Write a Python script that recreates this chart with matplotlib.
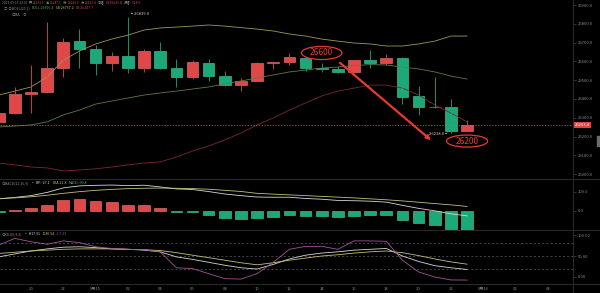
import matplotlib
matplotlib.use("Agg")
import matplotlib.pyplot as plt
import matplotlib.transforms as mtransforms
from matplotlib.lines import Line2D
from matplotlib.patches import Ellipse, Rectangle
import numpy as np

plt.rcParams["font.family"] = ["Noto Sans CJK SC", "DejaVu Sans"]

# hourly candles, 2023-09-14 18:00 .. 2023-09-15 23:00
opens = [26279, 26324, 26427, 26439, 26566, 26708, 26664, 26593, 26629, 26566,
         26657, 26563, 26519, 26593, 26522, 26474, 26496, 26590, 26595, 26620,
         26563, 26558, 26545, 26607, 26593, 26616, 26416, 26357, 26356, 26231.1]
closes = [26327, 26427, 26439, 26563, 26702, 26664, 26593, 26629, 26566, 26657,
          26563, 26515, 26595, 26522, 26474, 26496, 26593, 26598, 26622, 26566,
          26558, 26545, 26607, 26593, 26620, 26412, 26356, 26355, 26231, 26263.4]
highs = [26335, 26465, 26581, 26811, 26723, 26771, 26687, 26648, 26839, 26664,
         26702, 26613, 26607, 26611, 26549, 26510, 26596, 26602, 26643, 26625,
         26590, 26577, 26610, 26661, 26638, 26625, 26469, 26515, 26401, 26287.7]
lows = [26272, 26320, 26324, 26435, 26515, 26566, 26528, 26550, 26540, 26545,
        26558, 26465, 26505, 26496, 26471, 26444, 26494, 26558, 26581, 26550,
        26542, 26537, 26540, 26563, 26581, 26373, 26315, 26350, 26218, 26229.9]

# BOLL(20,2)
boll_ub = [26421, 26442, 26464, 26517, 26607, 26655, 26693, 26719, 26740, 26767,
           26778, 26783, 26788, 26794, 26788, 26780, 26772, 26762, 26746, 26735,
           26719, 26708, 26698, 26693, 26682, 26682, 26693, 26708, 26735, 26735]
boll_mb = [26251, 26256, 26262, 26278, 26315, 26341, 26373, 26389, 26405, 26421,
           26432, 26442, 26453, 26464, 26480, 26496, 26512, 26528, 26544, 26554,
           26565, 26570, 26578, 26583, 26581, 26570, 26560, 26544, 26522, 26506]
boll_lb = [26059, 26049, 26038, 26033, 26017, 26022, 26028, 26038, 26049, 26059,
           26065, 26091, 26123, 26150, 26182, 26219, 26262, 26299, 26341, 26379,
           26416, 26442, 26458, 26474, 26474, 26458, 26421, 26368, 26325, 26278]

# MACD(12,26,9)
macd_hist = [-5, 5, 12, 30, 58, 61, 53, 46, 32, 32, 12, -7, -9, -25, -39, -44,
             -39, -33, -25, -30, -30, -35, -30, -25, -25, -47, -65, -77, -95, -99.8]
dif = [62.5, 70.5, 80, 97, 121, 131.5, 134.5, 136, 133, 135, 126, 115.5, 112.5,
       101.5, 88.5, 80, 72.5, 71.5, 71.5, 65, 61, 54.5, 53, 50.5, 45.5, 28.5,
       12.5, -0.5, -16.5, -27.1]
dea = [65, 68, 74, 82, 92, 101, 108, 113, 117, 119, 120, 119, 117, 114, 108, 102,
       92, 88, 84, 80, 76, 72, 68, 63, 58, 52, 45, 38, 31, 22.8]

# KDJ(9,3,3)
kdj_k = [48, 55, 62, 67, 71, 72, 70, 67, 66, 64, 60, 48, 42, 35, 28, 22, 19, 30,
         43, 52, 57, 60, 64, 66, 68, 50, 37, 27, 22, 17.91]
kdj_d = [56, 59, 62, 64, 66, 67, 67, 67, 66, 65, 63, 58, 52, 46, 40, 34, 29, 34,
         40, 45, 50, 53, 57, 60, 62, 58, 51, 43, 36, 30.54]
kdj_j = [76, 92, 84, 78, 86, 82, 72, 68, 66, 65, 60, 22, 20, 8, -4, -5, 8, 35,
         66, 73, 73, 66, 86, 86, 85, 40, 12, 0, -7, -7.33]

tick_pos = [2, 4, 6, 8, 10, 12, 14, 16, 18, 20, 22, 24, 26, 28, 30, 32, 34]
tick_labels = ["20", "22", "9月15", "02", "04", "06", "08", "10", "12", "14",
               "16", "18", "20", "22", "9月16", "02", "04"]

BG = "#000000"
UP, UP_EDGE = "#e04848", "#f07c7c"
DOWN, DOWN_EDGE = "#1ca878", "#48d3a0"
SEP = "#2c2c2c"
TXT = "#8a8a8a"
WHITE_LINE = "#d6d6d6"
YELLOW_LINE = "#c6bf78"
PURPLE_LINE = "#a2559c"
ANNOT = "#e8392e"

W, H = 600, 293
AX_RIGHT = 573
XLIM = (0.08, 35.56)

fig = plt.figure(figsize=(W / 100, H / 100), dpi=100, facecolor=BG)
renderer = fig.canvas.get_renderer()


def panel(top, bottom):
    a = fig.add_axes([0, 1 - bottom / H, AX_RIGHT / W, (bottom - top) / H])
    a.set_facecolor(BG)
    a.set_xlim(*XLIM)
    for s in a.spines.values():
        s.set_visible(False)
    a.yaxis.tick_right()
    a.tick_params(axis="y", colors="#4a4a4a", length=2, width=0.5, pad=1.5,
                  labelsize=3, labelcolor=TXT)
    a.tick_params(axis="x", length=0, labelsize=3, labelcolor=TXT, pad=2)
    a.set_xticks([])
    return a


def header(x0, y, parts, size=2.5, gap=1.6):
    """Write coloured text segments one after another, in pixels from top-left."""
    xx = x0
    for s, col in parts:
        t = fig.text(xx / W, 1 - y / H, s, color=col, fontsize=size,
                     ha="left", va="center")
        xx = t.get_window_extent(renderer).x1 + gap


x = np.arange(len(opens))
o, c = np.array(opens), np.array(closes)
up = c >= o
fill = np.where(up, UP, DOWN)
edge = np.where(up, UP_EDGE, DOWN_EDGE)

# ---- price panel
ax = panel(0, 179)
ax.set_ylim(25974, 26927)
ax.plot(x, boll_ub, color="#9c985a", lw=0.6)
ax.plot(x, boll_mb, color="#5f7a45", lw=0.6)
ax.plot(x, boll_lb, color="#7a2a2e", lw=0.6)
ax.vlines(x, lows, highs, colors=fill, lw=0.6)
ax.bar(x, np.maximum(np.abs(c - o), 4), 0.72, bottom=np.minimum(o, c),
       color=fill, edgecolor=edge, linewidth=0.4)

last = closes[-1]
ax.axhline(last, color="#b56a6a", lw=0.5, ls=(0, (2, 2)))
ax.set_yticks(np.arange(26000, 26901, 100))
ax.yaxis.set_major_formatter(lambda v, _: f"{v:.1f}")
blend = mtransforms.blended_transform_factory(ax.transAxes, ax.transData)
ax.text(1.004, last, f"{last:.1f}", transform=blend, color="white", fontsize=3,
        ha="left", va="center", clip_on=False,
        bbox=dict(boxstyle="square,pad=0.25", fc="#d94545", ec="none"))

hi = int(np.argmax(highs))
lo = int(np.argmin(lows))
ax.text(hi + 0.05, highs[hi] + 12, f"└ {highs[hi]:.1f}", color="#cfcfcf",
        fontsize=3, ha="left", va="center")
ax.text(lo - 0.1, lows[lo] - 6, f"{lows[lo]:.1f} ┘", color="#cfcfcf",
        fontsize=3, ha="right", va="center")

# hand-drawn style annotations
ax.add_patch(Ellipse((20.0, 26645), 2.5, 70, fill=False, ec=ANNOT, lw=0.9))
ax.text(20.0, 26645, "26600", color=ANNOT, fontsize=6, ha="center", va="center")
ax.add_patch(Ellipse((29.0, 26176), 2.55, 64, fill=False, ec=ANNOT, lw=0.9))
ax.text(29.0, 26176, "26200", color=ANNOT, fontsize=6, ha="center", va="center")
ax.annotate("", xy=(26.9, 26171), xytext=(21.0, 26602),
            arrowprops=dict(arrowstyle="-|>", color=ANNOT, lw=1.6, mutation_scale=6))

# ---- MACD panel
ax_m = panel(179, 230)
ax_m.set_ylim(-102, 168)
h = np.array(macd_hist)
hup = h >= 0
ax_m.bar(x, h, 0.72, color=np.where(hup, UP, DOWN),
         edgecolor=np.where(hup, UP_EDGE, DOWN_EDGE), linewidth=0.4)
ax_m.plot(x, dif, color=WHITE_LINE, lw=0.6)
ax_m.plot(x, dea, color=YELLOW_LINE, lw=0.6)
ax_m.set_yticks([0, 100])
ax_m.yaxis.set_major_formatter(lambda v, _: f"{v:.1f}")

# ---- KDJ panel
ax_k = panel(230, 284)
ax_k.set_ylim(-16.7, 112)
for lvl in (20, 50, 80):
    ax_k.axhline(lvl, color="#5e5e5e", lw=0.5, ls=(0, (3, 3)))
ax_k.plot(x, kdj_k, color=WHITE_LINE, lw=0.6)
ax_k.plot(x, kdj_d, color=YELLOW_LINE, lw=0.6)
ax_k.plot(x, kdj_j, color=PURPLE_LINE, lw=0.6)
ax_k.set_yticks([0, 50, 100])
ax_k.yaxis.set_major_formatter(lambda v, _: f"{v:.2f}")
ax_k.set_xticks(tick_pos)
ax_k.set_xticklabels(tick_labels)

# panel separators
for yy in (179, 230, 284):
    fig.add_artist(Line2D([0, 1], [1 - yy / H] * 2, transform=fig.transFigure,
                          color=SEP, lw=0.7))
fig.add_artist(Line2D([AX_RIGHT / W] * 2, [0, 1], transform=fig.transFigure,
                      color=SEP, lw=0.7))
fig.add_artist(Rectangle((597 / W, 1 - 146 / H), 3 / W, 10 / H,
                         transform=fig.transFigure, color="#6a6a6a"))

# header texts
header(2, 2.5, [("2023-09-15 23:00", TXT), ("开", TXT), (f"{opens[-1]:.1f}", UP),
                ("高", TXT), (f"{highs[-1]:.1f}", UP), ("低", TXT),
                (f"{lows[-1]:.1f}", UP), ("收", TXT), (f"{closes[-1]:.1f}", UP),
                ("涨幅", TXT), ("0.13%(33.3)", UP), ("振幅", TXT), ("0.23%", UP)],
       size=2.3, gap=1.2)
header(4, 8, [("○ ⊙BOLL(20,2)", TXT), ("BOLL:26506.4", "#6e9a52"),
              ("UB:26757.2", "#c8bf5a"), ("LB:26247.7", "#c0403c")])
header(12, 15, [("○MA", TXT), ("⊙", TXT)])

header(2, 183, [("⊙MACD(12,26,9)", TXT), ("▪", TXT),
                (f"DIF:{dif[-1]:.1f}", WHITE_LINE), (f"DEA:{dea[-1]:.1f}", YELLOW_LINE),
                (f"MACD:{macd_hist[-1]:.1f}", "#3cc48e")])
header(2, 234, [("⊙KDJ(9,3,3)", TXT), ("▪", TXT),
                (f"K:{kdj_k[-1]:.2f}", WHITE_LINE), (f"D:{kdj_d[-1]:.2f}", YELLOW_LINE),
                (f"J:{kdj_j[-1]:.2f}", PURPLE_LINE)])

fig.savefig("out.png", dpi=100, facecolor=BG)
